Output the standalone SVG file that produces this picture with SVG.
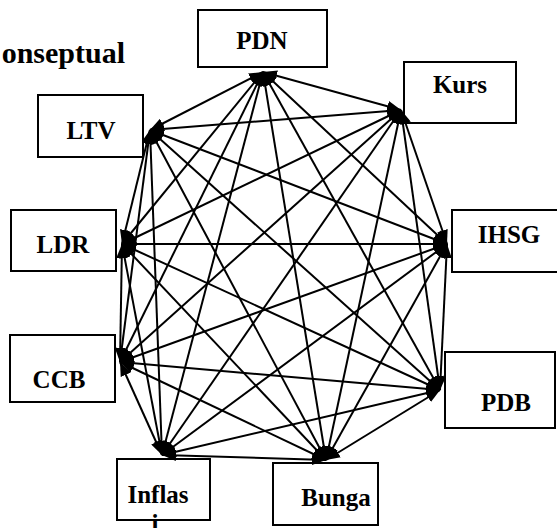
<svg xmlns="http://www.w3.org/2000/svg" width="557" height="528" viewBox="0 0 557 528">
<style>
.box{fill:#fff;stroke:#000;stroke-width:2}
.lbl{font-weight:bold;font-size:25px;fill:#000;text-anchor:middle}
.e{stroke:#000;stroke-width:2;fill:none;marker-start:url(#ah);marker-end:url(#ah)}
</style>
<defs>
<marker id="ah" markerUnits="userSpaceOnUse" markerWidth="14" markerHeight="11" refX="14" refY="5.5" orient="auto-start-reverse" viewBox="0 0 14 11">
<path d="M0,0 L14,5.5 L0,11 z" fill="#000"/>
</marker>
</defs>
<rect width="557" height="528" fill="#fff"/>
<g font-family="Liberation Serif, DejaVu Serif, serif">
<text x="125" y="63" font-weight="bold" font-size="30" text-anchor="end">onseptual</text>
<g id="PDN"><rect class="box" x="198" y="10" width="129" height="57"/><text class="lbl" x="262" y="49">PDN</text></g>
<g id="Kurs"><rect class="box" x="404" y="62" width="112" height="61"/><text class="lbl" x="460" y="93">Kurs</text></g>
<g id="IHSG"><rect class="box" x="452" y="210" width="110" height="62"/><text class="lbl" x="509" y="243">IHSG</text></g>
<g id="PDB"><rect class="box" x="445" y="352" width="110" height="76"/><text class="lbl" x="506" y="411">PDB</text></g>
<g id="Bunga"><rect class="box" x="273" y="463" width="105" height="62"/><text class="lbl" x="336" y="506">Bunga</text></g>
<g id="Inflas"><rect class="box" x="117" y="459" width="93" height="61"/><text class="lbl" x="158" y="503">Inflas</text><text class="lbl" x="155" y="532">i</text></g>
<g id="CCB"><rect class="box" x="10" y="335" width="105" height="67"/><text class="lbl" x="59" y="388">CCB</text></g>
<g id="LDR"><rect class="box" x="11" y="210" width="105" height="61"/><text class="lbl" x="63" y="253">LDR</text></g>
<g id="LTV"><rect class="box" x="38" y="95" width="105" height="62"/><text class="lbl" x="91" y="139">LTV</text></g>
</g>
<g id="connectors">
<line class="e" x1="263" y1="72" x2="401" y2="110"/>
<line class="e" x1="263" y1="72" x2="447" y2="244"/>
<line class="e" x1="263" y1="72" x2="440" y2="390"/>
<line class="e" x1="263" y1="72" x2="326" y2="460"/>
<line class="e" x1="263" y1="72" x2="162" y2="455"/>
<line class="e" x1="263" y1="72" x2="120" y2="362"/>
<line class="e" x1="263" y1="72" x2="122" y2="244"/>
<line class="e" x1="263" y1="72" x2="150" y2="130"/>
<line class="e" x1="401" y1="110" x2="447" y2="244"/>
<line class="e" x1="401" y1="110" x2="440" y2="390"/>
<line class="e" x1="401" y1="110" x2="326" y2="460"/>
<line class="e" x1="401" y1="110" x2="162" y2="455"/>
<line class="e" x1="401" y1="110" x2="120" y2="362"/>
<line class="e" x1="401" y1="110" x2="122" y2="244"/>
<line class="e" x1="401" y1="110" x2="150" y2="130"/>
<line class="e" x1="447" y1="244" x2="440" y2="390"/>
<line class="e" x1="447" y1="244" x2="326" y2="460"/>
<line class="e" x1="447" y1="244" x2="162" y2="455"/>
<line class="e" x1="447" y1="244" x2="120" y2="362"/>
<line class="e" x1="447" y1="244" x2="122" y2="244"/>
<line class="e" x1="447" y1="244" x2="150" y2="130"/>
<line class="e" x1="440" y1="390" x2="326" y2="460"/>
<line class="e" x1="440" y1="390" x2="162" y2="455"/>
<line class="e" x1="440" y1="390" x2="120" y2="362"/>
<line class="e" x1="440" y1="390" x2="122" y2="244"/>
<line class="e" x1="440" y1="390" x2="150" y2="130"/>
<line class="e" x1="326" y1="460" x2="162" y2="455"/>
<line class="e" x1="326" y1="460" x2="120" y2="362"/>
<line class="e" x1="326" y1="460" x2="122" y2="244"/>
<line class="e" x1="326" y1="460" x2="150" y2="130"/>
<line class="e" x1="162" y1="455" x2="120" y2="362"/>
<line class="e" x1="162" y1="455" x2="122" y2="244"/>
<line class="e" x1="162" y1="455" x2="150" y2="130"/>
<line class="e" x1="120" y1="362" x2="122" y2="244"/>
<line class="e" x1="120" y1="362" x2="150" y2="130"/>
<line class="e" x1="122" y1="244" x2="150" y2="130"/>
</g>
</svg>
